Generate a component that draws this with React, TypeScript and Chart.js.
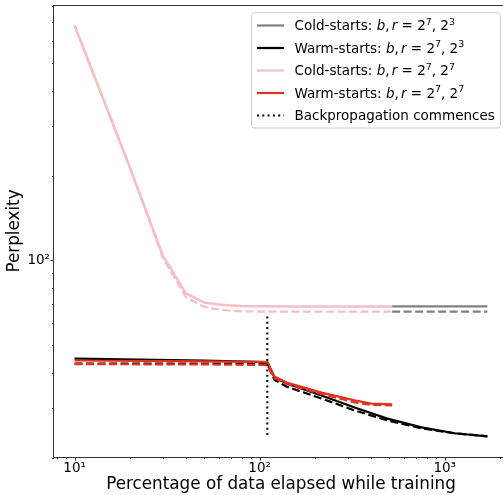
import React, { useEffect, useRef } from 'react';
import { Chart, registerables } from 'chart.js';
Chart.register(...registerables);

// ---- data (percentage of data elapsed -> perplexity) ----
const coldR7X = [10, 20, 30, 40, 50, 60, 70, 80, 100, 150, 200, 300, 400, 520];
const coldR7Solid = [681, 212, 104, 76.4, 71.0, 69.8, 69.3, 69.0, 68.8, 68.7, 68.7, 68.7, 68.7, 68.7];
const coldR7Dashed = [681, 212, 102, 74.0, 68.5, 67.0, 66.3, 66.0, 65.9, 65.9, 65.9, 65.9, 65.9, 65.9];

const coldR3X = [520, 700, 1000, 1400, 1700];
const coldR3Solid = [68.7, 68.7, 68.7, 68.7, 68.7];
const coldR3Dashed = [65.9, 65.9, 65.9, 65.9, 65.9];

const warmR3X = [10, 50, 110, 120, 140, 216, 326, 490, 750, 1130, 1700];
const warmR3Solid = [44.9, 44.2, 43.6, 38.6, 36.6, 33.2, 30.1, 27.5, 25.6, 24.4, 23.8];
const warmR3Dashed = [43.1, 43.1, 43.0, 37.8, 35.7, 32.4, 29.4, 27.1, 25.4, 24.4, 23.8];

const warmR7X = [10, 50, 110, 120, 140, 216, 326, 400, 520];
const warmR7Solid = [44.2, 43.9, 43.6, 38.8, 36.9, 34.0, 31.9, 31.1, 30.9];
const warmR7Dashed = [42.9, 42.8, 42.6, 38.3, 36.5, 33.6, 31.4, 30.8, 30.6];

const backpropX = [110, 110];
const backpropY = [63.3, 23.7];

const xTickValues = [8, 9, 10, 20, 30, 40, 50, 60, 70, 80, 90, 100, 200, 300, 400, 500, 600, 700, 800, 900, 1000, 2000];
const yTickValues = [20, 30, 40, 50, 60, 70, 80, 90, 100, 200, 300, 400, 500, 600, 700, 800];
const majorLabels: Record<number, string> = { 10: '10¹', 100: '10²', 1000: '10³' };

const xTitle = 'Percentage of data elapsed while training';
const yTitle = 'Perplexity';

const GREY = '#808080';
const BLACK = '#000000';
const PINK = '#f4bfc7';
const RED = '#e2331f';
const FONT = '"DejaVu Sans"';

const legendEntries = [
  { color: GREY, dash: [] as number[], label: 'Cold-starts: ', sup: ['7', '3'] },
  { color: BLACK, dash: [] as number[], label: 'Warm-starts: ', sup: ['7', '3'] },
  { color: PINK, dash: [] as number[], label: 'Cold-starts: ', sup: ['7', '7'] },
  { color: RED, dash: [] as number[], label: 'Warm-starts: ', sup: ['7', '7'] },
  { color: BLACK, dash: [2, 3.3], label: 'Backpropagation commences', sup: null as null | string[] },
];

const pts = (xs: number[], ys: number[]) => xs.map((x, i) => ({ x, y: ys[i] }));

const isMajor = (v: number) => Math.abs(Math.log10(v) - Math.round(Math.log10(v))) < 1e-9;

const axesPlugin = {
  id: 'mplAxes',
  afterDraw(chart: any) {
    const { ctx, chartArea } = chart;
    const { left, right, top, bottom } = chartArea;
    ctx.save();
    ctx.strokeStyle = '#333';
    ctx.lineWidth = 1;
    ctx.beginPath();
    ctx.moveTo(left - 0.5, top + 0.5);
    ctx.lineTo(right, top + 0.5);
    ctx.moveTo(left - 0.5, top);
    ctx.lineTo(left - 0.5, bottom);
    ctx.moveTo(left - 0.5, bottom + 0.5);
    ctx.lineTo(right, bottom + 0.5);
    ctx.moveTo(right - 0.5, top);
    ctx.lineTo(right - 0.5, bottom);
    ctx.stroke();
    const xs = chart.scales.x;
    const ys = chart.scales.y;
    ctx.beginPath();
    xTickValues.forEach((v) => {
      const p = Math.round(xs.getPixelForValue(v)) + 0.5;
      const len = isMajor(v) ? 3.5 : 2;
      ctx.moveTo(p, bottom);
      ctx.lineTo(p, bottom + len);
    });
    yTickValues.forEach((v) => {
      const p = Math.round(ys.getPixelForValue(v)) + 0.5;
      const len = isMajor(v) ? 3.5 : 2;
      ctx.moveTo(left, p);
      ctx.lineTo(left - len, p);
    });
    ctx.stroke();
    ctx.restore();
  },
};

const legendPlugin = {
  id: 'mplLegend',
  afterDraw(chart: any) {
    const { ctx, chartArea } = chart;
    const fs = 13.5;
    const boxRight = chartArea.right - 7.5;
    const boxLeft = boxRight - 249;
    const boxTop = chartArea.top + 7.5;
    const boxH = 115.5;
    ctx.save();
    const r = 3;
    ctx.beginPath();
    ctx.moveTo(boxLeft + r, boxTop);
    ctx.lineTo(boxRight - r, boxTop);
    ctx.arcTo(boxRight, boxTop, boxRight, boxTop + r, r);
    ctx.lineTo(boxRight, boxTop + boxH - r);
    ctx.arcTo(boxRight, boxTop + boxH, boxRight - r, boxTop + boxH, r);
    ctx.lineTo(boxLeft + r, boxTop + boxH);
    ctx.arcTo(boxLeft, boxTop + boxH, boxLeft, boxTop + boxH - r, r);
    ctx.lineTo(boxLeft, boxTop + r);
    ctx.arcTo(boxLeft, boxTop, boxLeft + r, boxTop, r);
    ctx.closePath();
    ctx.fillStyle = 'rgba(255,255,255,0.8)';
    ctx.fill();
    ctx.strokeStyle = '#d0d0d0';
    ctx.lineWidth = 1;
    ctx.stroke();

    const handleX0 = boxLeft + 5.5;
    const handleX1 = handleX0 + 27;
    const textX = handleX1 + 10.5;
    legendEntries.forEach((e, i) => {
      const cy = boxTop + 13 + i * 22.5;
      ctx.beginPath();
      ctx.setLineDash(e.dash);
      ctx.strokeStyle = e.color;
      ctx.lineWidth = 2.2;
      ctx.moveTo(handleX0, cy);
      ctx.lineTo(handleX1, cy);
      ctx.stroke();
      ctx.setLineDash([]);
      const base = cy + 4.8;
      ctx.fillStyle = '#000';
      ctx.textBaseline = 'alphabetic';
      ctx.textAlign = 'left';
      let x = textX;
      const seg = (t: string, italic = false, sup = false, extra = 0) => {
        const size = sup ? fs * 0.7 : fs;
        ctx.font = `${italic ? 'italic ' : ''}${size}px ${FONT}`;
        ctx.fillText(t, x, sup ? base - fs * 0.42 : base);
        x += ctx.measureText(t).width + extra;
      };
      seg(e.label);
      if (e.sup) {
        seg('b', true);
        seg(',', false, false, 2.2);
        seg('r', true);
        seg(' = 2');
        seg(e.sup[0], false, true);
        seg(', 2');
        seg(e.sup[1], false, true);
      }
    });
    ctx.restore();
  },
};

const fixPad = (s: any) => {
  s.paddingTop = 0;
  s.paddingBottom = 0;
  s.paddingLeft = 0;
  s.paddingRight = 0;
};

export default function App() {
  const ref = useRef<HTMLCanvasElement | null>(null);
  useEffect(() => {
    if (!ref.current) return;
    const lw = 2.2;
    const dash = [8, 3.5];
    const chart = new Chart(ref.current, {
      type: 'line',
      data: {
        datasets: [
          { data: pts(backpropX, backpropY), borderColor: BLACK, borderDash: [2, 3.3], borderWidth: 2 },
          { data: pts(warmR7X, warmR7Dashed), borderColor: RED, borderDash: dash, borderWidth: lw },
          { data: pts(warmR7X, warmR7Solid), borderColor: RED, borderWidth: lw },
          { data: pts(coldR7X, coldR7Dashed), borderColor: PINK, borderDash: dash, borderWidth: lw },
          { data: pts(coldR7X, coldR7Solid), borderColor: PINK, borderWidth: 2.5 },
          { data: pts(warmR3X, warmR3Dashed), borderColor: BLACK, borderDash: dash, borderWidth: lw },
          { data: pts(warmR3X, warmR3Solid), borderColor: BLACK, borderWidth: lw },
          { data: pts(coldR3X, coldR3Dashed), borderColor: GREY, borderDash: dash, borderWidth: lw },
          { data: pts(coldR3X, coldR3Solid), borderColor: GREY, borderWidth: lw },
        ].map((d) => ({ ...d, pointRadius: 0, fill: false, tension: 0, borderCapStyle: 'butt' as const })),
      },
      options: {
        animation: false,
        responsive: false,
        events: [],
        layout: { padding: { top: 5, right: 2, left: 0, bottom: 0 } },
        plugins: { legend: { display: false }, tooltip: { enabled: false } },
        scales: {
          x: {
            type: 'logarithmic',
            min: 7.74,
            max: 2198,
            bounds: 'data',
            grid: { display: false, drawTicks: false },
            border: { display: false },
            afterBuildTicks: (s: any) => {
              s.ticks = xTickValues.map((v) => ({ value: v, major: isMajor(v) }));
            },
            afterFit: (s: any) => {
              s.height = 38;
              fixPad(s);
            },
            ticks: {
              autoSkip: false,
              maxRotation: 0,
              padding: 3,
              color: '#000',
              font: { family: FONT, size: 13.5 },
              callback: (v: any) => majorLabels[Math.round(Number(v))] ?? '',
            },
            title: {
              display: true,
              text: xTitle,
              color: '#000',
              font: { family: FONT, size: 16.8 },
              padding: { top: 0, bottom: 0 },
            },
          },
          y: {
            type: 'logarithmic',
            min: 20.1,
            max: 805,
            bounds: 'data',
            grid: { display: false, drawTicks: false },
            border: { display: false },
            afterBuildTicks: (s: any) => {
              s.ticks = yTickValues.map((v) => ({ value: v, major: isMajor(v) }));
            },
            afterFit: (s: any) => {
              s.width = 54;
              fixPad(s);
            },
            ticks: {
              autoSkip: false,
              padding: 4,
              color: '#000',
              font: { family: FONT, size: 13.5 },
              callback: (v: any) => majorLabels[Math.round(Number(v))] ?? '',
            },
            title: {
              display: true,
              text: yTitle,
              color: '#000',
              font: { family: FONT, size: 16.8 },
              padding: { top: 5, bottom: 0 },
            },
          },
        },
      } as any,
      plugins: [axesPlugin, legendPlugin],
    });
    return () => chart.destroy();
  }, []);
  return (
    <div style={{ position: 'fixed', left: 0, top: 0, width: 503, height: 495, overflow: 'hidden', background: '#fff' }}>
      <canvas ref={ref} width={510} height={495} style={{ width: 510, height: 495, display: 'block' }} />
    </div>
  );
}
